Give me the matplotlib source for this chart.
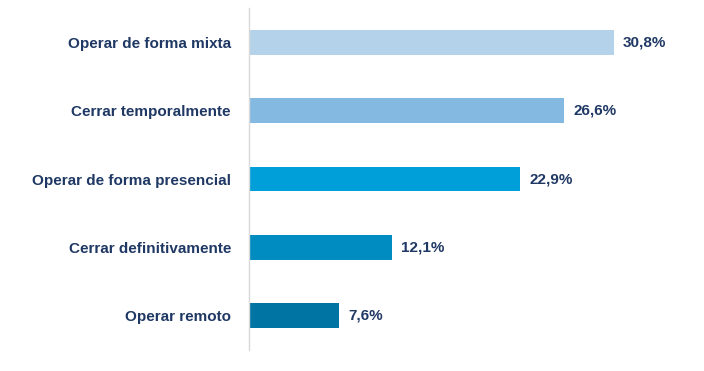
import matplotlib
matplotlib.use("Agg")
import matplotlib.pyplot as plt
from matplotlib import font_manager

categories = ["Operar de forma mixta", "Cerrar temporalmente", "Operar de forma presencial",
              "Cerrar definitivamente", "Operar remoto"]
values = [30.8, 26.6, 22.9, 12.1, 7.6]
value_labels = ["30,8%", "26,6%", "22,9%", "12,1%", "7,6%"]
colors = ["#B4D3EA", "#84B9E1", "#009FDA", "#008BC1", "#0075A3"]

names = {f.name for f in font_manager.fontManager.ttflist}
fam = "Liberation Sans Narrow" if "Liberation Sans Narrow" in names else "Liberation Sans"
fs = 12.5 if fam == "Liberation Sans Narrow" else 11
text_color = "#1F3864"

fig = plt.figure(figsize=(7.04, 3.71), dpi=100)
ax = fig.add_axes([249/704, 1-350/371, (660-249)/704, (350-8)/371])
y = list(range(len(categories)))
ax.barh(y, values, height=0.36, color=colors)
ax.set_ylim(len(categories)-0.5, -0.5)
ax.set_xlim(0, 411/11.85)
ax.set_yticks(y)
ax.set_yticklabels(categories, fontfamily=fam, fontweight="bold", fontsize=fs, color=text_color)
ax.tick_params(axis="y", length=0, pad=13)
ax.set_xticks([])
for s in ["top", "right", "bottom"]:
    ax.spines[s].set_visible(False)
ax.spines["left"].set_color("#D9D9D9")
ax.spines["left"].set_linewidth(1)
for yi, v, lab in zip(y, values, value_labels):
    ax.annotate(lab, (v, yi), xytext=(6.5, 0), textcoords="offset points", va="center", ha="left",
                fontfamily=fam, fontweight="bold", fontsize=fs, color=text_color)
fig.savefig("out.png", dpi=100)
